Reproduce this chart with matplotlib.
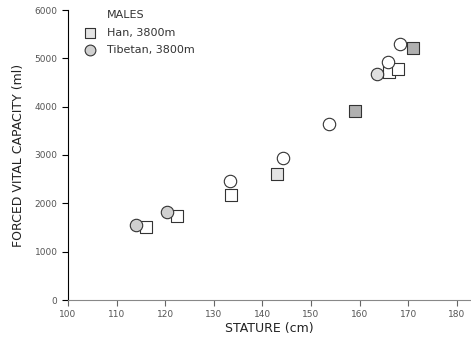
import numpy as np
import matplotlib.pyplot as plt

# Han, 3800m (squares)
han_stature = [116.0, 122.4, 133.5, 142.9, 159.1, 166.0, 167.8, 171.0]
han_fvc = [1510, 1742, 2170, 2617, 3912, 4711, 4773, 5213]

# Tibetan, 3800m (circles)
tib_stature = [114.0, 120.4, 133.3, 144.3, 153.7, 163.5, 165.9, 168.3]
tib_fvc = [1550, 1812, 2459, 2948, 3636, 4676, 4917, 5289]

xticks = [100, 110, 120, 130, 140, 150, 160, 170, 180]
yticks = [0, 1000, 2000, 3000, 4000, 5000, 6000]

# shading of the symbols as printed
han_face = ['white', 'white', 'white', '#e4e4e4', '#b0b0b0', 'white', 'white', '#b0b0b0']
tib_face = ['#d0d0d0', '#d0d0d0', 'white', 'white', 'white', '#e0e0e0', 'white', 'white']

plt.rcParams['font.family'] = 'DejaVu Sans'
fig = plt.figure(figsize=(4.71, 3.39), dpi=100)
ax = fig.add_axes([68/471, 39/339, 403/471, 290/339])

for x, y, fc in zip(han_stature, han_fvc, han_face):
    ax.scatter(x, y, marker='s', s=68, facecolor=fc, edgecolor='#333333', linewidth=0.8, zorder=3)
for x, y, fc in zip(tib_stature, tib_fvc, tib_face):
    ax.scatter(x, y, marker='o', s=80, facecolor=fc, edgecolor='#333333', linewidth=0.8, zorder=3)

# legend drawn by hand
ax.text(0.097, 0.983, 'MALES', transform=ax.transAxes, fontsize=8, va='center', color='#333333')
ax.scatter(0.055, 0.921, marker='s', s=50, facecolor='#e4e4e4', edgecolor='#333333', linewidth=0.8,
           transform=ax.transAxes, clip_on=False)
ax.text(0.097, 0.921, 'Han, 3800m', transform=ax.transAxes, fontsize=8, va='center', color='#333333')
ax.scatter(0.055, 0.862, marker='o', s=60, facecolor='#d0d0d0', edgecolor='#333333', linewidth=0.8,
           transform=ax.transAxes, clip_on=False)
ax.text(0.097, 0.862, 'Tibetan, 3800m', transform=ax.transAxes, fontsize=8, va='center', color='#333333')

ax.set_xlim(100, 182.9)
ax.set_ylim(0, 6000)
ax.set_xticks(xticks)
ax.set_yticks(yticks)
ax.tick_params(axis='both', labelsize=6.5, labelcolor='#555555', length=4, width=0.8, direction='out')
ax.spines['top'].set_visible(False)
ax.spines['right'].set_visible(False)
ax.spines['left'].set_color('black')
ax.spines['bottom'].set_color('#888888')
ax.tick_params(axis='x', color='#666666')

ax.set_xlabel('STATURE (cm)', fontsize=9, labelpad=2, color='#222222')
ax.set_ylabel('FORCED VITAL CAPACITY (ml)', fontsize=9, labelpad=7, color='#222222')

fig.savefig('out.png', dpi=100)
